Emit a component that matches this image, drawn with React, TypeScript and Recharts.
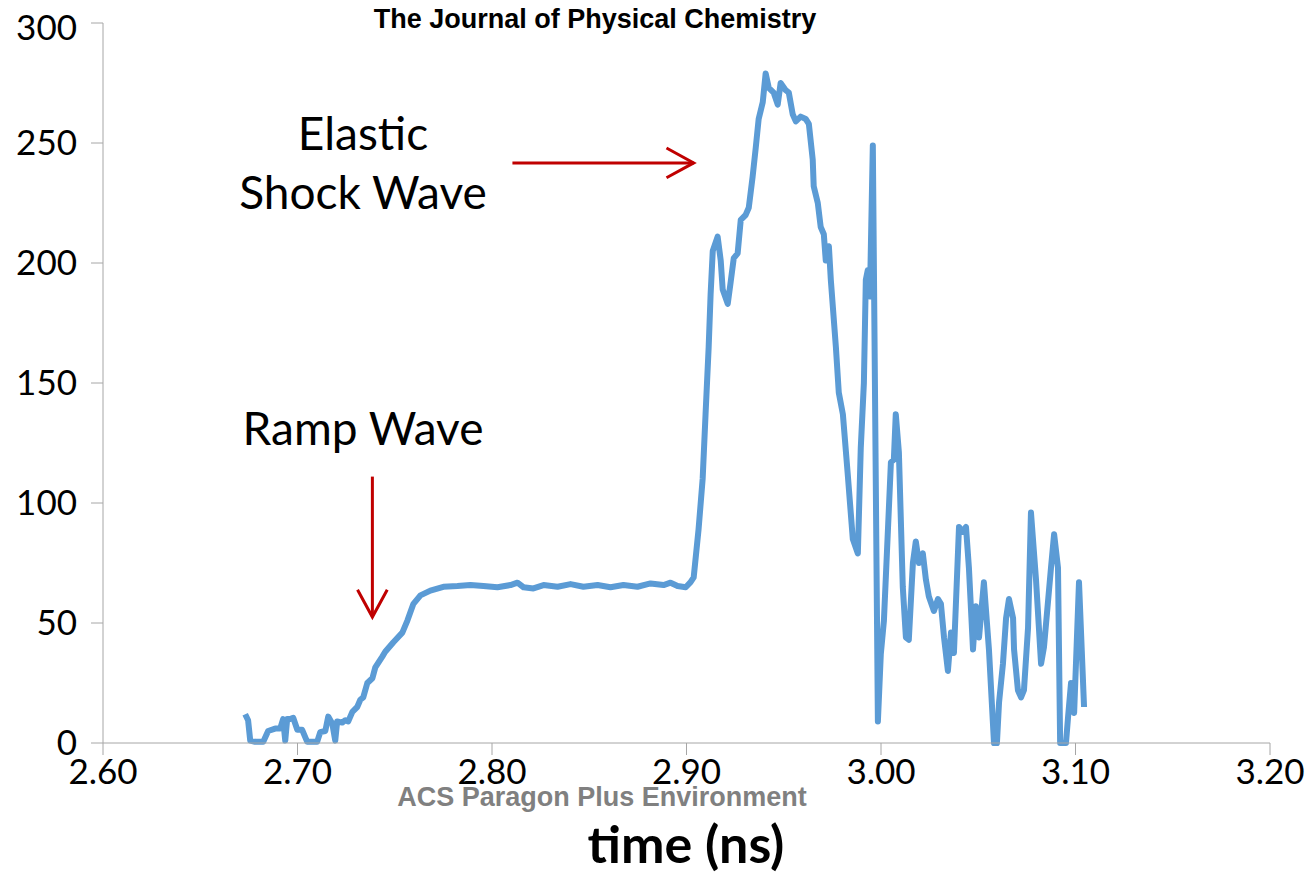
import { LineChart, Line, XAxis, YAxis, ReferenceLine } from 'recharts';

// time (ns) and signal values
const time = [
    2.6731, 2.6746, 2.6757, 2.6782, 2.6824, 2.6849, 2.6885, 2.6911, 2.6926, 2.6937,
    2.6947, 2.6962, 2.6978, 2.6999, 2.7024, 2.705, 2.7101, 2.7117, 2.7143, 2.7158,
    2.7179, 2.7194, 2.7204, 2.723, 2.7246, 2.7261, 2.7282, 2.7307, 2.7323, 2.7338,
    2.7359, 2.7385, 2.74, 2.7436, 2.7451, 2.7493, 2.7539, 2.7565, 2.7596, 2.7632,
    2.7683, 2.775, 2.7822, 2.7889, 2.7956, 2.8028, 2.8095, 2.8131, 2.8162, 2.8213,
    2.8265, 2.8337, 2.8404, 2.847, 2.8543, 2.8609, 2.8676, 2.8748, 2.8815, 2.8882,
    2.8918, 2.8954, 2.8996, 2.9021, 2.9037, 2.9062, 2.9083, 2.9098, 2.9114, 2.9124,
    2.9135, 2.916, 2.9176, 2.9186, 2.9212, 2.9227, 2.9243, 2.9263, 2.9279, 2.9304,
    2.932, 2.934, 2.9356, 2.9371, 2.9392, 2.9407, 2.9423, 2.9448, 2.9469, 2.9484,
    2.951, 2.9526, 2.9546, 2.9562, 2.9587, 2.9613, 2.9629, 2.9649, 2.9654, 2.9675,
    2.969, 2.9706, 2.9716, 2.9732, 2.9742, 2.9768, 2.9783, 2.9804, 2.9829, 2.9855,
    2.9881, 2.9896, 2.9912, 2.9922, 2.9932, 2.9943, 2.9958, 2.9984, 2.9999, 3.0015,
    3.0051, 3.0066, 3.0076, 3.0092, 3.0112, 3.0128, 3.0143, 3.0164, 3.0179, 3.0195,
    3.0215, 3.0231, 3.0246, 3.0272, 3.0293, 3.0308, 3.0324, 3.0344, 3.036, 3.0375,
    3.0401, 3.0421, 3.0437, 3.0452, 3.0473, 3.0488, 3.0504, 3.0529, 3.0555, 3.0581,
    3.0596, 3.0607, 3.0627, 3.0643, 3.0658, 3.0679, 3.0684, 3.0704, 3.072, 3.0735,
    3.0756, 3.0771, 3.0797, 3.0823, 3.0838, 3.0874, 3.089, 3.091, 3.0921, 3.0951,
    3.0962, 3.0977, 3.0993, 3.1018, 3.1044,
];

const signal = [
    12, 9.5, 1, 0.5, 0.5, 5, 6, 6, 10, 1,
    10, 10, 10.5, 5.5, 5.5, 0.5, 0.5, 4.5, 5, 11,
    8, 1, 9, 8.5, 9.5, 9, 13, 15, 18, 19,
    25, 27, 31.5, 36, 38, 42, 46, 51, 58, 61.5,
    63.5, 65.1, 65.4, 65.8, 65.4, 64.9, 65.8, 66.8, 64.9, 64.4,
    65.8, 65.1, 66.2, 65.1, 65.8, 64.9, 65.8, 65.1, 66.5, 65.8,
    66.8, 65.4, 64.9, 67, 69, 89, 110, 137, 165, 187,
    205, 211, 201, 189, 183, 192, 202, 204, 218, 220,
    223, 236, 248, 260, 267, 279, 273, 271, 266, 275,
    272, 271, 262, 259, 261, 260, 258, 243, 232, 225,
    215, 212, 201, 207, 193, 165, 146, 137, 112, 85,
    79, 123, 150, 193, 197, 186, 249, 9, 37, 51,
    117, 118, 137, 121, 65, 44, 43, 75, 84, 75,
    79, 68, 61, 55, 60, 58, 44, 30, 46, 37.5,
    90, 88, 90, 73, 39, 57, 44, 67, 39, 0,
    0, 17, 33, 52, 60, 52, 39, 22, 19, 22,
    48, 96, 68, 33, 40, 73, 87, 73, 0, 0,
    11, 25, 12.5, 67, 15,
];

const xTicks = [2.6, 2.7, 2.8, 2.9, 3.0, 3.1, 3.2];
const yTicks = [0, 50, 100, 150, 200, 250, 300];

const data = time.map((t, i) => ({ t, v: signal[i] }));

const AXIS = '#a6a6a6';
const RED = '#c00000';
const FONT = 'Lato, "DejaVu Sans", sans-serif';
const ARIAL = "Arial, 'Liberation Sans', sans-serif";

// line with an open chevron head at (x2, y2)
const Arrow = (props: any) => {
    const { x1, y1, x2, y2 } = props;
    const ang = Math.atan2(y2 - y1, x2 - x1);
    const len = 31;
    const spread = 0.5;
    const a1 = ang + Math.PI - spread;
    const a2 = ang + Math.PI + spread;
    return (
        <g stroke={RED} strokeWidth={3} fill="none">
            <line x1={x1} y1={y1} x2={x2} y2={y2} />
            <polyline
                points={`${x2 + len * Math.cos(a1)},${y2 + len * Math.sin(a1)} ${x2},${y2} ${x2 + len * Math.cos(a2)},${y2 + len * Math.sin(a2)}`}
            />
        </g>
    );
};

export default function App() {
    return (
        <div style={{ position: 'relative', width: 1300, height: 880 }}>
            <LineChart
                width={1300}
                height={880}
                data={data}
                style={{ overflow: 'visible' }}
                margin={{ top: 15, right: 38, left: 0, bottom: 85 }}
            >
                <XAxis
                    dataKey="t"
                    type="number"
                    domain={[2.6, 3.2]}
                    ticks={xTicks}
                    tickFormatter={(v: number) => v.toFixed(2)}
                    stroke={AXIS}
                    tickSize={12}
                    tickMargin={4}
                    height={60}
                    tick={{ fill: '#000', fontSize: 35, fontFamily: FONT }}
                />
                <YAxis
                    type="number"
                    domain={[0, 300]}
                    ticks={yTicks}
                    stroke={AXIS}
                    width={95}
                    tickSize={12}
                    tickMargin={14}
                    tick={{ fill: '#000', fontSize: 35, fontFamily: FONT }}
                />
                <ReferenceLine
                    segment={[{ x: 2.8105, y: 241.7 }, { x: 2.9037, y: 241.7 }]}
                    ifOverflow="visible"
                    shape={Arrow}
                />
                <ReferenceLine
                    segment={[{ x: 2.7385, y: 111 }, { x: 2.7385, y: 52.5 }]}
                    ifOverflow="visible"
                    shape={Arrow}
                />
                <Line
                    dataKey="v"
                    type="linear"
                    stroke="#5b9bd5"
                    strokeWidth={6}
                    strokeLinejoin="round"
                    dot={false}
                    isAnimationActive={false}
                />
            </LineChart>
            {/* overlay in page coordinates (root sits 8px in from the page corner) */}
            <svg
                width={1314}
                height={889}
                style={{ position: 'absolute', left: -8, top: -8, pointerEvents: 'none' }}
            >
                <text x={595} y={28} textAnchor="middle" fontFamily={ARIAL} fontWeight={700} fontSize={27} fill="#000">
                    The Journal of Physical Chemistry
                </text>
                <text x={363} y={150} textAnchor="middle" fontFamily={FONT} fontSize={46} fill="#000">
                    Elastic
                </text>
                <text x={363} y={209} textAnchor="middle" fontFamily={FONT} fontSize={46} fill="#000">
                    Shock Wave
                </text>
                <text x={363} y={445} textAnchor="middle" fontFamily={FONT} fontSize={46} fill="#000">
                    Ramp Wave
                </text>
                <text x={602} y={806} textAnchor="middle" fontFamily={ARIAL} fontWeight={700} fontSize={27} fill="#808080">
                    ACS Paragon Plus Environment
                </text>
                <text x={686} y={863} textAnchor="middle" fontFamily={FONT} fontWeight={700} fontSize={52} fill="#000">
                    time (ns)
                </text>
            </svg>
        </div>
    );
}
